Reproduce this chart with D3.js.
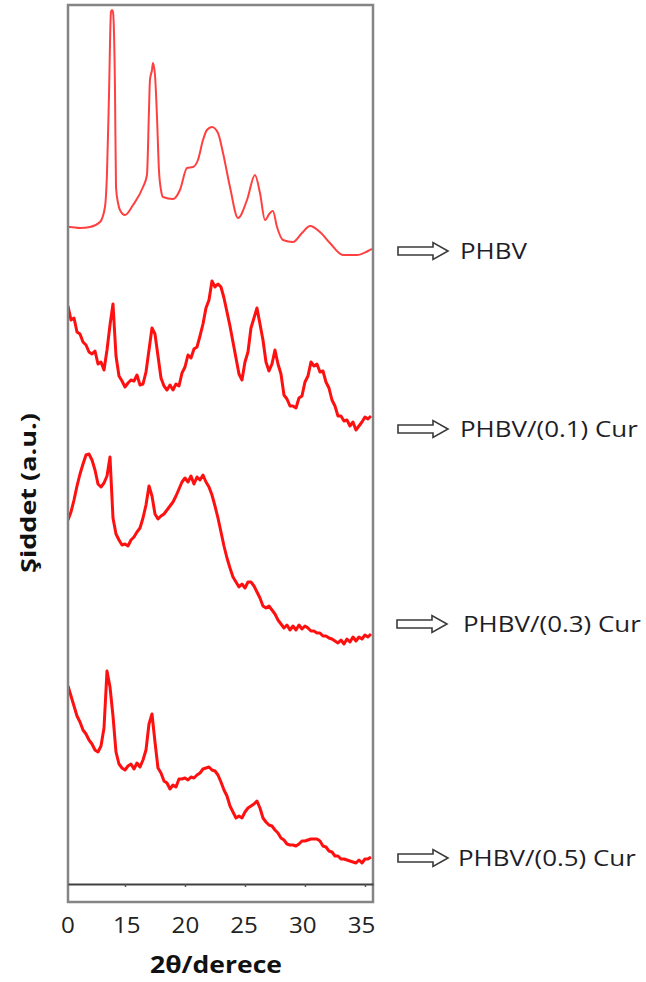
<!DOCTYPE html>
<html>
<head>
<meta charset="utf-8">
<script src="https://cdn.jsdelivr.net/npm/d3@7"></script>
<style>
  html, body { margin: 0; padding: 0; background: #ffffff; }
  svg { display: block; }
</style>
</head>
<body>
<svg id="chart" width="646" height="982"></svg>
<script>
// XRD patterns of PHBV films with increasing curcumin content (stacked, a.u.)

// Shared 2θ grid of the measured patterns
const twoTheta = [
  10.25, 10.5, 10.75, 11, 11.25, 11.5, 11.75, 12, 12.25, 12.5,
  12.75, 13, 13.25, 13.5, 13.75, 14, 14.25, 14.5, 14.75, 15,
  15.25, 15.5, 15.75, 16, 16.25, 16.5, 16.75, 17, 17.25, 17.5,
  17.75, 18, 18.25, 18.5, 18.75, 19, 19.25, 19.5, 19.75, 20,
  20.25, 20.5, 20.75, 21, 21.25, 21.5, 21.75, 22, 22.25, 22.5,
  22.75, 23, 23.25, 23.5, 23.75, 24, 24.25, 24.5, 24.75, 25,
  25.25, 25.5, 25.75, 26, 26.25, 26.5, 26.75, 27, 27.25, 27.5,
  27.75, 28, 28.25, 28.5, 28.75, 29, 29.25, 29.5, 29.75, 30,
  30.25, 30.5, 30.75, 31, 31.25, 31.5, 31.75, 32, 32.25, 32.5,
  32.75, 33, 33.25, 33.5, 33.75, 34, 34.25, 34.5, 34.75, 35,
  35.25, 35.5
];

// Neat PHBV (smoothed pattern): [2θ, intensity]
const phbv = [
  [10.25, 37], [10.42, 37], [11.25, 36], [12.08, 37], [12.92, 42], [13.33, 57],
  [13.5, 91], [13.67, 171], [13.83, 252], [13.92, 254], [14.0, 252], [14.17, 171],
  [14.25, 77], [14.42, 61], [14.58, 54], [15.0, 49], [15.67, 59], [16.5, 77],
  [16.83, 89], [17.0, 154], [17.08, 184], [17.25, 194], [17.33, 201], [17.5, 189],
  [17.67, 146], [17.83, 94], [18.0, 74], [18.17, 67], [19.0, 65], [19.58, 74],
  [20.17, 96], [20.67, 97], [21.08, 104], [21.5, 124], [21.83, 134], [22.25, 137],
  [22.75, 131], [23.17, 111], [23.75, 77], [24.42, 46], [25.17, 64], [25.83, 89],
  [26.25, 71], [26.67, 44], [27.08, 51], [27.33, 53], [27.67, 37], [28.17, 24],
  [29.0, 22], [29.75, 31], [30.42, 38], [31.25, 32], [32.08, 21], [33.17, 9],
  [34.33, 9], [35.25, 13], [35.58, 15]
];

// PHBV/(0.1) Cur
const cur01 = [
  138, 124, 126, 112, 110, 102, 99, 92, 90, 93,
  80, 82, 74, 94, 119, 140, 88, 68, 63, 57,
  61, 64, 63, 69, 59, 60, 72, 94, 116, 110,
  88, 66, 58, 54, 59, 54, 60, 58, 71, 77,
  89, 86, 95, 97, 108, 120, 136, 144, 163, 157,
  160, 157, 146, 132, 118, 102, 86, 70, 64, 82,
  92, 116, 126, 136, 120, 104, 82, 73, 80, 94,
  80, 70, 49, 45, 38, 38, 36, 46, 48, 62,
  68, 82, 78, 80, 72, 73, 62, 56, 44, 38,
  28, 28, 23, 24, 18, 22, 14, 18, 22, 27,
  25, 28
];

// PHBV/(0.3) Cur
const cur03 = [
  134, 142, 154, 168, 180, 190, 199, 200, 194, 184,
  170, 167, 171, 178, 197, 136, 120, 114, 109, 110,
  108, 114, 117, 122, 126, 136, 149, 168, 158, 140,
  135, 138, 140, 144, 148, 152, 158, 165, 172, 176,
  172, 178, 170, 177, 174, 179, 172, 167, 159, 148,
  136, 122, 108, 96, 86, 77, 72, 67, 70, 66,
  72, 72, 68, 62, 56, 48, 46, 48, 44, 40,
  34, 30, 26, 29, 24, 28, 24, 29, 25, 28,
  26, 23, 23, 21, 21, 18, 18, 16, 15, 13,
  11, 14, 10, 15, 12, 17, 13, 17, 15, 19,
  17, 20
];

// PHBV/(0.5) Cur
const cur05 = [
  188, 178, 168, 158, 152, 144, 140, 134, 130, 124,
  122, 128, 146, 203, 187, 158, 122, 110, 106, 104,
  108, 110, 105, 111, 107, 114, 124, 150, 160, 132,
  106, 101, 93, 91, 85, 89, 87, 95, 95, 96,
  94, 97, 96, 99, 101, 105, 106, 107, 104, 103,
  99, 92, 84, 78, 68, 62, 56, 58, 56, 62,
  66, 68, 70, 73, 66, 56, 52, 49, 48, 44,
  41, 36, 34, 30, 29, 29, 28, 30, 33, 33,
  34, 35, 35, 35, 33, 28, 27, 23, 22, 18,
  18, 15, 15, 14, 13, 12, 11, 14, 11, 15,
  15, 17
];

const seriesNames = ["PHBV", "PHBV/(0.1) Cur", "PHBV/(0.3) Cur", "PHBV/(0.5) Cur"];
const stackOffsets = [620, 440, 230, 10];   // vertical shift of each pattern (a.u.)

const tickValues = [10, 15, 20, 25, 30, 35];
const tickLabels = ["0", "15", "20", "25", "30", "35"];

const xTitle = "2θ/derece";
const yTitle = "Şiddet (a.u.)";

// ---------------------------------------------------------------------------
const svg = d3.select("#chart");

const plot = { left: 68, top: 5, right: 373, bottom: 902, baseline: 884 };
const textFont = "'Open Sans', 'Liberation Sans', Arial, sans-serif";

const x = d3.scaleLinear().domain([10.25, 35.67]).range([plot.left, plot.right]);
const y = d3.scaleLinear().domain([0, 880]).range([plot.baseline, plot.baseline - 880]);

// Frame
svg.append("rect")
  .attr("x", plot.left).attr("y", plot.top)
  .attr("width", plot.right - plot.left).attr("height", plot.bottom - plot.top)
  .attr("fill", "none").attr("stroke", "#858585").attr("stroke-width", 2.5);

// Inner x axis line with small ticks (only those inside the frame)
const innerTicks = tickValues.filter(v => v >= x.domain()[0]);
const axisLine = svg.append("g")
  .attr("transform", `translate(0,${plot.baseline})`)
  .call(d3.axisBottom(x).tickValues(innerTicks).tickSize(3).tickSizeOuter(0).tickFormat(""));
axisLine.select(".domain").attr("stroke", "#404040").attr("stroke-width", 2);
axisLine.selectAll(".tick line").attr("stroke", "#555").attr("stroke-width", 1.5);

// Tick labels below the frame; the first label marks the broken start of the axis
const labelScale = d3.scalePoint().domain(tickLabels).range([67.5, 361]);
const axisLabels = svg.append("g")
  .attr("transform", "translate(0,918)")
  .call(d3.axisBottom(labelScale).tickSize(0).tickPadding(0));
axisLabels.select(".domain").remove();
axisLabels.selectAll("text")
  .attr("font-family", textFont)
  .attr("font-size", 21)
  .attr("fill", "#222")
  .attr("transform", "scale(1.15,1)");

// Patterns
svg.append("clipPath").attr("id", "plotClip")
  .append("rect")
  .attr("x", plot.left + 1).attr("y", plot.top + 1)
  .attr("width", plot.right - plot.left - 2).attr("height", plot.bottom - plot.top - 2);

const smoothLine = d3.line()
  .x(d => x(d[0]))
  .y(d => y(stackOffsets[0] + d[1]))
  .curve(d3.curveMonotoneX);

svg.append("path")
  .datum(phbv)
  .attr("d", smoothLine)
  .attr("fill", "none")
  .attr("stroke", "#ff4040")
  .attr("stroke-width", 2)
  .attr("stroke-linejoin", "round")
  .attr("clip-path", "url(#plotClip)");

const noisy = [cur01, cur03, cur05];
noisy.forEach((vals, k) => {
  const off = stackOffsets[k + 1];
  const line = d3.line()
    .x((d, i) => x(twoTheta[i]))
    .y(d => y(off + d))
    .curve(d3.curveLinear);
  svg.append("path")
    .datum(vals)
    .attr("d", line)
    .attr("fill", "none")
    .attr("stroke", "#ff1010")
    .attr("stroke-width", 3)
    .attr("stroke-linejoin", "round")
    .attr("clip-path", "url(#plotClip)");
});

// Series labels with outlined arrows
const labelRows = [
  { y: 251, arrowX: 398, textX: 460 },
  { y: 429, arrowX: 398, textX: 460 },
  { y: 624, arrowX: 397, textX: 463 },
  { y: 858, arrowX: 398, textX: 458 }
];
const arrowPath = (x0, yc) => {
  const shaftEnd = x0 + 35, tip = x0 + 50;
  return `M${x0},${yc - 4} L${shaftEnd},${yc - 4} L${shaftEnd},${yc - 8.5} L${tip},${yc} ` +
         `L${shaftEnd},${yc + 8.5} L${shaftEnd},${yc + 4} L${x0},${yc + 4} Z`;
};
seriesNames.forEach((name, i) => {
  const r = labelRows[i];
  svg.append("path")
    .attr("d", arrowPath(r.arrowX, r.y))
    .attr("fill", "#ffffff")
    .attr("stroke", "#3a3a3a")
    .attr("stroke-width", 1.6)
    .attr("stroke-linejoin", "miter");
  svg.append("text")
    .attr("transform", `translate(${r.textX},${r.y}) scale(1.18,1)`)
    .attr("dy", "0.36em")
    .attr("font-family", textFont)
    .attr("font-size", 22)
    .attr("fill", "#1e1e28")
    .text(name);
});

// Axis titles, stretched to their drawn lengths
const fitText = (sel, target) => {
  const w = sel.node().getComputedTextLength();
  return w > 0 ? target / w : 1;
};

const xt = svg.append("text")
  .attr("text-anchor", "middle")
  .attr("font-family", textFont)
  .attr("font-weight", 700)
  .attr("font-size", 23)
  .attr("fill", "#111")
  .text(xTitle);
xt.attr("transform", `translate(216,973) scale(${fitText(xt, 132)},1)`);

const yt = svg.append("text")
  .attr("text-anchor", "middle")
  .attr("dy", "0.36em")
  .attr("font-family", textFont)
  .attr("font-weight", 700)
  .attr("font-size", 21)
  .attr("fill", "#111")
  .text(yTitle);
yt.attr("transform", `translate(28,493) rotate(-90) scale(${fitText(yt, 160)},1)`);
</script>
</body>
</html>
